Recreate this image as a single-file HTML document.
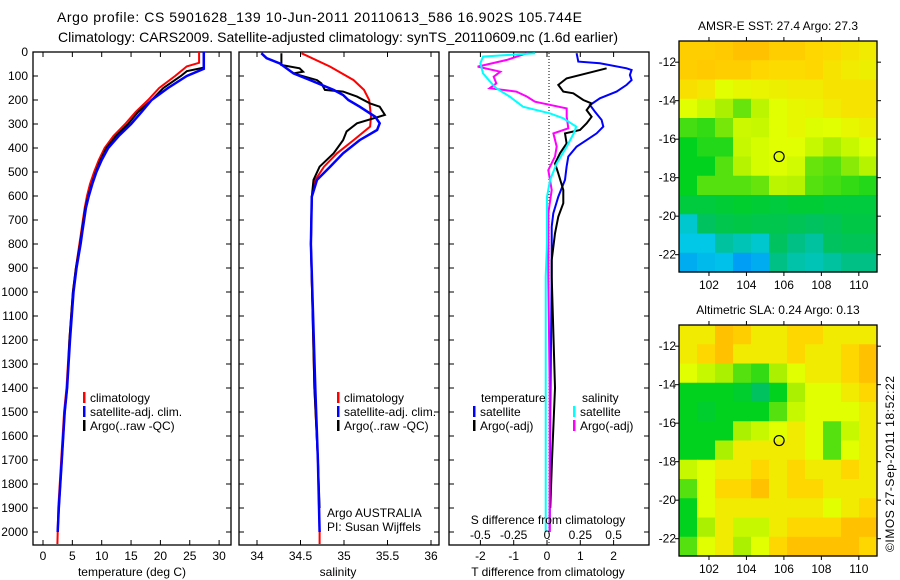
<!DOCTYPE html>
<html><head><meta charset="utf-8"><style>
html,body{margin:0;padding:0;background:#fff;}
svg{display:block;font-family:"Liberation Sans",sans-serif;}
</style></head><body>
<svg id="fig" width="900" height="580" viewBox="0 0 900 580" xmlns="http://www.w3.org/2000/svg">
<text x="57" y="22" font-size="14" textLength="525">Argo profile: CS 5901628_139 10-Jun-2011 20110613_586 16.902S 105.744E</text>
<text x="58" y="42" font-size="14" textLength="560">Climatology: CARS2009. Satellite-adjusted climatology: synTS_20110609.nc (1.6d earlier)</text>
<g id="g"></g>
<text transform="translate(894,552) rotate(-90)" font-size="12" textLength="176">©IMOS 27-Sep-2011 18:52:22</text>
</svg>
<script>
// ---------- data ----------
const depthTicks=[0,100,200,300,400,500,600,700,800,900,1000,1100,1200,1300,1400,1500,1600,1700,1800,1900,2000];
const tempTicks=[0,5,10,15,20,25,30];
const salTicks=[34,34.5,35,35.5,36];
const salTickLabels=["34","34.5","35","35.5","36"];
const tdTicks=[-2,-1,0,1,2];
const sdTicks=[-0.5,-0.25,0,0.25,0.5];
const sdTickLabels=["-0.5","-0.25","0","0.25","0.5"];

const tClimDepth=[0,45,60,100,150,200,250,300,350,400,450,500,550,600,650,700,750,800,900,1000,1200,1400,1500,1700,1900,2000,2050];
const tClimVal=[26.6,26.6,24.5,22.5,19.8,17.9,15.8,14.0,12.0,10.5,9.5,8.7,8.0,7.5,7.1,6.8,6.5,6.2,5.6,5.1,4.5,4.0,3.6,3.1,2.6,2.5,2.45];
const tSatDepth=[0,70,100,150,200,250,300,350,400,450,500,550,600,650,700,750,800,900,1000,1200,1400,1500,1700,1900,2000];
const tSatVal=[27.4,27.4,24.5,21.3,18.5,16.8,15.0,12.9,11.1,10.0,9.1,8.4,7.8,7.3,7.0,6.7,6.4,5.7,5.2,4.6,4.1,3.7,3.2,2.7,2.5];
const tArgoDepth=[0,65,80,100,150,200,250,300,350,400,450,500,550,600,650,700,750,800,900,1000,1200,1400,1500,1700,1900,2000];
const tArgoVal=[27.4,27.4,24.5,23.5,20.5,18.5,16.2,14.5,12.4,10.8,9.8,9.0,8.3,7.7,7.2,6.9,6.6,6.3,5.6,5.1,4.5,4.1,3.7,3.2,2.7,2.5];

const sClimDepth=[5,61,117,158,200,270,311,367,422,478,533,603,800,1400,1700,2000,2050];
const sClimVal=[34.51,34.84,35.11,35.23,35.29,35.31,35.30,35.11,34.92,34.77,34.67,34.63,34.62,34.66,34.70,34.72,34.72];
const sSatDepth=[5,26,47,89,117,158,179,200,228,270,297,325,367,422,478,533,603,800,1400,1700,2000];
const sSatVal=[34.05,34.11,34.26,34.42,34.61,34.88,34.99,35.05,35.18,35.36,35.41,35.38,35.18,34.99,34.84,34.69,34.63,34.62,34.67,34.70,34.72];
const sArgoDepth=[5,54,68,82,89,117,131,158,165,186,214,228,262,297,331,367,422,478,533,603,800,1400,1700,1900];
const sArgoVal=[34.28,34.28,34.49,34.53,34.42,34.69,34.74,34.78,34.99,35.15,35.30,35.41,35.47,35.15,35.03,34.99,34.88,34.72,34.65,34.63,34.62,34.66,34.70,34.72];

const dTSatDepth=[5,40,47,68,75,96,117,137,165,193,221,249,283,311,339,367,394,436,478,533,603,672,728,867,936,1500,2000];
const dTSatVal=[0.89,0.94,1.59,2.39,2.54,2.49,2.54,2.39,2.09,1.59,1.29,1.44,1.64,1.69,1.49,1.19,0.89,0.64,0.59,0.54,0.34,0.19,0.14,0.14,0.14,0.10,0.08];
const dTArgoDepth=[68,82,110,137,165,172,200,214,242,270,297,325,339,381,422,464,506,575,630,686,756,867,936,1400,1700,1900];
const dTArgoVal=[1.79,1.39,0.59,0.34,0.49,0.79,1.09,1.34,1.19,1.34,1.19,0.99,0.54,0.59,0.39,0.24,0.34,0.49,0.49,0.34,0.24,0.14,0.14,0.24,0.15,0.10];
const dSArgoDepth=[5,33,61,82,103,131,151,165,186,207,235,270,318,339,394,436,492,575,672,756,936,1400,1700,2000];
const dSArgoVal=[-0.15,-0.30,-0.52,-0.35,-0.40,-0.38,-0.43,-0.23,-0.15,-0.09,0.148,0.148,0.16,0.048,0.073,0.06,0.01,0.035,0.01,0.01,0.01,0.02,0.02,0.02];
const dSSatDepth=[5,19,47,89,131,151,186,228,256,276,311,339,394,464,533,603,672,797,936,1500,2000];
const dSSatVal=[-0.09,-0.48,-0.50,-0.48,-0.415,-0.38,-0.28,-0.18,0.023,0.12,0.22,0.2,0.148,0.073,0.023,0.00,0.00,0.00,-0.01,-0.01,-0.01];

const mapLonTicks=[102,104,106,108,110];
const mapLatTicks=[-12,-14,-16,-18,-20,-22];
const argoLon=105.744, argoLat=-16.902;
// color level per 1-degree cell, rows from north (-11) to south (-23)
const sstGrid=[
[6.2,6.2,6.3,6.5,6.5,6.2,6.2,6.0,5.9,5.7,5.5],
[6.2,6.3,6.2,6.2,6.0,5.9,5.9,6.0,5.7,5.5,5.4],
[5.8,5.6,5.0,5.2,5.3,5.4,5.5,5.5,5.7,5.7,5.7],
[5.0,4.6,4.0,3.6,4.3,5.0,5.2,5.3,5.5,5.7,5.7],
[3.4,3.3,3.7,4.6,4.5,5.0,5.2,4.9,5.0,5.2,5.4],
[3.0,3.2,3.2,4.5,4.8,5.0,5.0,4.5,4.0,4.5,4.9],
[3.0,3.0,3.5,4.2,4.8,4.9,4.7,3.6,3.5,3.8,4.2],
[3.0,3.5,3.5,3.5,3.6,4.3,4.2,3.5,3.4,3.3,3.2],
[2.6,2.6,2.7,2.8,2.7,2.6,2.7,2.7,2.6,2.6,2.6],
[1.2,2.2,2.4,2.5,2.4,2.4,2.3,2.2,2.3,2.5,2.5],
[1.0,1.0,1.6,1.4,1.2,2.2,1.8,1.6,2.2,2.3,2.3],
[0.6,0.8,0.9,0.4,0.6,1.8,1.5,1.4,1.6,1.8,1.8]];
const slaGrid=[
[5.5,5.5,6.5,6.2,5.5,5.5,6.0,6.0,5.5,5.5,5.5],
[5.5,6.0,6.5,5.5,5.5,5.5,6.0,5.5,5.5,6.0,6.5],
[5.0,4.5,4.0,3.5,3.3,4.0,5.0,5.5,5.5,6.0,6.5],
[3.0,3.0,3.0,2.8,2.2,3.0,4.0,5.0,5.0,5.5,6.0],
[3.0,2.8,3.0,3.0,3.0,3.5,4.5,5.0,5.0,5.0,5.5],
[3.0,3.0,3.0,4.0,4.5,5.0,5.5,5.0,3.5,4.5,5.5],
[3.0,3.0,4.0,5.5,5.5,5.5,5.5,5.0,3.5,5.0,5.5],
[4.5,5.0,5.5,5.5,6.0,5.5,6.0,5.5,5.5,6.0,5.5],
[3.5,5.0,6.0,6.0,6.5,5.5,6.0,6.0,5.5,5.5,5.5],
[3.0,5.0,5.5,5.5,5.5,5.5,5.5,5.5,5.0,5.5,6.0],
[3.0,4.0,5.5,4.5,4.5,5.5,6.0,6.0,6.0,6.5,6.5],
[3.5,5.0,5.5,4.0,5.0,6.0,6.5,6.5,6.5,6.5,6.0]];

// ---------- helpers ----------
const NS="http://www.w3.org/2000/svg";
const G=document.getElementById('g');
function mk(tag,attrs,parent){const e=document.createElementNS(NS,tag);for(const k in attrs)e.setAttribute(k,attrs[k]);(parent||G).appendChild(e);return e;}
function txt(s,x,y,anchor,size,parent){const e=mk('text',{x:x,y:y,'font-size':size||12,'text-anchor':anchor||'start'},parent);e.textContent=s;return e;}

const Y0=52, YS=0.24;
const yD=d=>Y0+d*YS;
const xT=v=>43+v*5.87;
const xS=v=>257+(v-34)*87;
const xDT=v=>547+v*33.3;
const xDS=v=>547+v*133.3;

function frame(x0,x1,name){
  const r=mk('rect',{x:x0,y:52,width:x1-x0,height:493,fill:'none',stroke:'#000','stroke-width':1.3});
  
  
  depthTicks.forEach(d=>{
    mk('line',{x1:x0,x2:x0+5,y1:yD(d),y2:yD(d),stroke:'#000'});
    mk('line',{x1:x1,x2:x1-5,y1:yD(d),y2:yD(d),stroke:'#000'});
  });
}
function xticks(vals,fx,labels,name){
  vals.forEach((v,i)=>{
    const x=fx(v);
    mk('line',{x1:x,x2:x,y1:545,y2:540,stroke:'#000'});
    mk('line',{x1:x,x2:x,y1:52,y2:57,stroke:'#000'});
    const t=txt(labels?labels[i]:String(v),x,560,'middle',12);
    
    
  });
}
function line(ds,vs,fx,color,name,w){
  const pts=ds.map((d,i)=>fx(vs[i]).toFixed(1)+','+yD(d).toFixed(1)).join(' ');
  const p=mk('polyline',{points:pts,fill:'none',stroke:color,'stroke-width':w||2});
  
  
}
function legendEntry(x,y,color,label,name){
  mk('rect',{x:x,y:y-10,width:2.5,height:11,fill:color});
  const t=txt(label,x+7,y,'start',12);
  
  
}

// ---------- panel 1: temperature ----------
frame(33,231,'temperature-panel');
depthTicks.forEach(d=>{const t=txt(String(d),28,yD(d)+4,'end',12);
  
  });
xticks(tempTicks,xT,null,'temperature-tick-label');
line(tClimDepth,tClimVal,xT,'#f00','temp-climatology-line');
line(tArgoDepth,tArgoVal,xT,'#000','temp-argo-line');
line(tSatDepth,tSatVal,xT,'#00f','temp-satellite-line',2.5);
txt('temperature (deg C)',132,576,'middle',12);
legendEntry(83,402,'#f00','climatology','legend-climatology');
legendEntry(83,416,'#00f','satellite-adj. clim.','legend-satellite');
legendEntry(83,430,'#000','Argo(..raw -QC)','legend-argo');

// ---------- panel 2: salinity ----------
frame(239,439,'salinity-panel');
xticks(salTicks,xS,salTickLabels,'salinity-tick-label');
line(sClimDepth,sClimVal,xS,'#f00','sal-climatology-line');
line(sArgoDepth,sArgoVal,xS,'#000','sal-argo-line');
line(sSatDepth,sSatVal,xS,'#00f','sal-satellite-line',2.5);
txt('salinity',338,576,'middle',12);
legendEntry(337,402,'#f00','climatology','legend-climatology-2');
legendEntry(337,416,'#00f','satellite-adj. clim.','legend-satellite-2');
legendEntry(337,430,'#000','Argo(..raw -QC)','legend-argo-2');
txt('Argo AUSTRALIA',327,517,'start',12);
txt('PI: Susan Wijffels',327,531,'start',12);

// ---------- panel 3: differences ----------
frame(449,649,'difference-panel');
for(let y=53;y<545;y+=3) mk('rect',{x:548.5,y:y,width:1,height:1,fill:'#000'});
xticks(tdTicks,xDT,null,'t-diff-tick-label');
line(dTSatDepth,dTSatVal,xDT,'#00f','tdiff-satellite-line');
line(dTArgoDepth,dTArgoVal,xDT,'#000','tdiff-argo-line');
line(dSArgoDepth,dSArgoVal,xDS,'#f0f','sdiff-argo-line');
line(dSSatDepth,dSSatVal,xDS,'#0ff','sdiff-satellite-line');
sdTicks.forEach((v,i)=>{const t=txt(sdTickLabels[i],xDS(v),539,'middle',12);
  
  });
txt('S difference from climatology',548,524,'middle',12);
txt('T difference from climatology',548,576,'middle',12);
txt('temperature',481,402,'start',12);
txt('salinity',582,402,'start',12);
legendEntry(473,416,'#00f','satellite','legend-t-satellite');
legendEntry(473,430,'#000','Argo(-adj)','legend-t-argo');
legendEntry(573,416,'#0ff','satellite','legend-s-satellite');
legendEntry(573,430,'#f0f','Argo(-adj)','legend-s-argo');

// ---------- maps ----------
const stops=[[0,130,255],[0,200,230],[0,190,110],[0,210,30],[170,240,0],[225,255,0],[255,215,0],[255,170,0]];
function col(v){v=Math.max(0,Math.min(7,v));const i=Math.min(6,Math.floor(v)),f=v-i;
  const a=stops[i],b=stops[i+1];return 'rgb('+a.map((c,k)=>Math.round(c+(b[k]-c)*f)).join(',')+')';}
function map(top,grid,title,name){
  const L=679,R=877,B=top+231,lon0=100.4,lon1=110.97,lat0=-10.9,lat1=-22.9;
  const mx=v=>L+(v-lon0)/(lon1-lon0)*(R-L);
  const my=v=>top+(lat0-v)/(lat0-lat1)*(B-top);
  const g=mk('g',{});
  
  
  const cw=(R-L)/11,ch=(B-top)/12;
  grid.forEach((row,r)=>row.forEach((v,c)=>mk('rect',{x:L+c*cw,y:top+r*ch,width:cw+0.6,height:ch+0.6,fill:col(v)},g)));
  mk('rect',{x:L,y:top,width:R-L,height:B-top,fill:'none',stroke:'#000','stroke-width':1.3},g);
  mapLatTicks.forEach(v=>{const y=my(v);
    mk('line',{x1:R,x2:R+4,y1:y,y2:y,stroke:'#000'},g);
    mk('line',{x1:L-4,x2:L,y1:y,y2:y,stroke:'#000'},g);
    txt(String(v),L-3,y+4,'end',12,g);});
  mapLonTicks.forEach(v=>{const x=mx(v);
    mk('line',{x1:x,x2:x,y1:top-4,y2:top,stroke:'#000'},g);
    mk('line',{x1:x,x2:x,y1:B,y2:B+4,stroke:'#000'},g);
    txt(String(v),x,B+17,'middle',12,g);});
  const c=mk('circle',{cx:mx(argoLon),cy:my(argoLat),r:5,fill:'none',stroke:'#000','stroke-width':1.2},g);
  
  
  const t=txt(title,(L+R)/2,top-11,'middle',12,g);
  
  
}
map(41,sstGrid,'AMSR-E SST: 27.4 Argo: 27.3','sst-map');
map(325,slaGrid,'Altimetric SLA: 0.24 Argo: 0.13','sla-map');
</script>
</body></html>
